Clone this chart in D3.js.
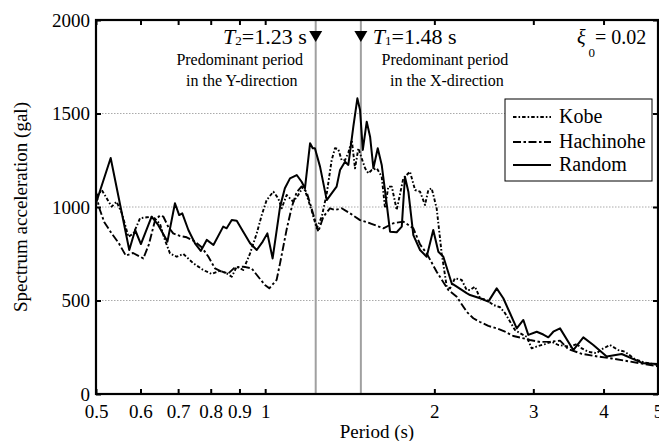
<!DOCTYPE html>
<html><head><meta charset="utf-8">
<script src="https://cdn.jsdelivr.net/npm/d3@7"></script>
<style>
body{margin:0;background:#fff;}
svg{display:block;}
svg text{font-family:"Liberation Serif","Times New Roman",serif;}
</style></head><body>
<svg id="c" width="659" height="441"></svg>
<script>
// ---- data ----
const xTickLabels = [0.5,0.6,0.7,0.8,0.9,1,2,3,4,5];
const yTickValues = [0,500,1000,1500,2000];
const gridValues = [500,1000,1500];
const seriesNames = ["Kobe","Hachinohe","Random"];
const periodT2 = 1.23, periodT1 = 1.48;

const kobe = [[0.500,1055],[0.512,1091],[0.533,1002],[0.544,1028],[0.556,966],[0.571,841],[0.583,859],[0.599,940],[0.616,945],[0.632,948],[0.650,909],[0.663,824],[0.677,752],[0.696,734],[0.715,749],[0.745,699],[0.776,663],[0.803,642],[0.831,659],[0.854,645],[0.872,627],[0.890,681],[0.914,663],[0.940,752],[0.966,859],[0.986,957],[1.006,1037],[1.034,1082],[1.055,1046],[1.070,993],[1.092,1064],[1.122,1028],[1.145,1064],[1.169,1109],[1.185,1064],[1.210,980],[1.235,886],[1.261,948],[1.287,1073],[1.313,1250],[1.331,1314],[1.349,1310],[1.368,1250],[1.387,1251],[1.406,1290],[1.426,1358],[1.445,1207],[1.465,1314],[1.485,1260],[1.506,1207],[1.526,1180],[1.548,1198],[1.580,1207],[1.612,1162],[1.634,993],[1.656,1109],[1.680,1109],[1.714,984],[1.761,1153],[1.810,1189],[1.848,1091],[1.886,1082],[1.925,1011],[1.951,1091],[1.978,1100],[2.019,993],[2.061,752],[2.104,574],[2.133,565],[2.176,619],[2.237,610],[2.283,556],[2.315,556],[2.362,574],[2.412,512],[2.478,503],[2.547,476],[2.618,464],[2.672,432],[2.727,387],[2.783,342],[2.841,325],[2.920,306],[2.980,244],[3.062,257],[3.147,267],[3.235,280],[3.323,262],[3.487,253],[3.583,267],[3.658,244],[3.758,226],[3.889,218],[3.970,239],[4.107,262],[4.250,235],[4.368,226],[4.551,186],[4.741,168],[5.000,155]];

const hachinohe = [[0.500,1080],[0.506,1000],[0.517,920],[0.533,859],[0.549,806],[0.565,740],[0.582,754],[0.607,725],[0.621,800],[0.637,930],[0.650,955],[0.659,948],[0.672,895],[0.686,859],[0.705,845],[0.725,838],[0.750,815],[0.771,785],[0.792,735],[0.814,672],[0.837,654],[0.860,645],[0.884,678],[0.914,681],[0.946,672],[0.972,627],[0.999,583],[1.017,565],[1.048,610],[1.063,700],[1.092,880],[1.115,1000],[1.138,1080],[1.161,1110],[1.185,1080],[1.210,990],[1.243,868],[1.269,948],[1.304,993],[1.331,984],[1.368,993],[1.416,966],[1.475,930],[1.537,913],[1.623,886],[1.690,913],[1.761,922],[1.835,886],[1.886,800],[1.938,752],[2.019,654],[2.118,556],[2.192,520],[2.283,440],[2.346,405],[2.412,385],[2.495,364],[2.582,351],[2.672,333],[2.764,310],[2.861,300],[2.960,289],[3.083,278],[3.212,280],[3.347,285],[3.462,240],[3.658,215],[3.915,200],[4.136,190],[4.428,175],[4.741,160],[5.000,148]];

const random = [[0.500,1020],[0.531,1262],[0.573,770],[0.587,877],[0.601,802],[0.628,948],[0.645,904],[0.670,815],[0.691,1020],[0.703,957],[0.712,966],[0.730,877],[0.750,806],[0.768,765],[0.787,824],[0.809,797],[0.842,895],[0.854,886],[0.872,930],[0.890,927],[0.914,868],[0.940,806],[0.966,770],[0.990,815],[1.009,859],[1.031,725],[1.063,1002],[1.084,1100],[1.107,1153],[1.138,1171],[1.161,1135],[1.177,1100],[1.202,1341],[1.215,1314],[1.226,1314],[1.252,1216],[1.287,1037],[1.313,1073],[1.340,1109],[1.359,1198],[1.387,1242],[1.406,1225],[1.435,1430],[1.459,1581],[1.475,1519],[1.492,1305],[1.516,1456],[1.537,1376],[1.558,1207],[1.586,1314],[1.612,1225],[1.646,1011],[1.668,868],[1.714,865],[1.750,895],[1.773,1162],[1.798,1082],[1.835,850],[1.886,770],[1.938,734],[1.991,877],[2.033,761],[2.075,734],[2.147,592],[2.192,574],[2.283,539],[2.315,529],[2.412,512],[2.495,494],[2.582,565],[2.653,512],[2.727,432],[2.803,351],[2.880,396],[2.939,316],[3.042,333],[3.125,318],[3.190,303],[3.256,333],[3.347,351],[3.534,235],[3.682,303],[3.836,262],[4.052,200],[4.309,214],[4.708,164],[5.000,160]];

// ---- layout ----
const FONT = "Liberation Serif, Times New Roman, serif";
const svg = d3.select("#c");
const L = 96, R = 658, T = 20, B = 394;
const x = d3.scaleLog().domain([0.5,5]).range([L,R]);
const y = d3.scaleLinear().domain([0,2000]).range([B,T]);
const FS = 19;

// grid
svg.append("g").selectAll("line").data(gridValues).join("line")
  .attr("x1",L).attr("x2",R).attr("y1",d=>y(d)).attr("y2",d=>y(d))
  .attr("stroke","#aaa").attr("stroke-width",1).attr("stroke-dasharray","1.5,1.5");

// vertical period lines
svg.append("g").selectAll("line").data([periodT2,periodT1]).join("line")
  .attr("x1",d=>x(d)).attr("x2",d=>x(d)).attr("y1",y(2000)).attr("y2",y(0))
  .attr("stroke","#a0a0a0").attr("stroke-width",2);

// curves
svg.append("clipPath").attr("id","clip").append("rect")
  .attr("x",L).attr("y",T).attr("width",R-L).attr("height",B-T);
const line = d3.line().x(d=>x(d[0])).y(d=>y(d[1]));
const styles = {
  Kobe:{data:kobe,dash:"3.5,2,1.6,2",w:1.9},
  Hachinohe:{data:hachinohe,dash:"8,2.5,2.5,2.5",w:1.9},
  Random:{data:random,dash:null,w:2}
};
const gCurves = svg.append("g").attr("clip-path","url(#clip)");
seriesNames.forEach(n=>{
  const s = styles[n];
  gCurves.append("path").datum(s.data).attr("d",line)
    .attr("fill","none").attr("stroke","#000").attr("stroke-width",s.w)
    .attr("stroke-linejoin","round")
    .attr("stroke-dasharray",s.dash);
});

// axes
const fmt = d=>String(d);
const gx = svg.append("g").attr("transform",`translate(0,${B})`)
  .call(d3.axisBottom(x).tickValues(xTickLabels).tickFormat(fmt).tickSizeInner(-5).tickSizeOuter(0).tickPadding(11));
const gxt = svg.append("g").attr("transform",`translate(0,${T})`)
  .call(d3.axisTop(x).tickValues(xTickLabels).tickFormat("").tickSizeInner(-5).tickSizeOuter(0));
const gy = svg.append("g").attr("transform",`translate(${L},0)`)
  .call(d3.axisLeft(y).tickValues(yTickValues).tickFormat(fmt).tickSizeInner(-5).tickSizeOuter(0).tickPadding(6));
const gyr = svg.append("g").attr("transform",`translate(${R},0)`)
  .call(d3.axisRight(y).tickValues(yTickValues).tickFormat("").tickSizeInner(-5).tickSizeOuter(0));
[gx,gxt,gy,gyr].forEach(g=>{
  g.attr("font-family",FONT);
  g.select(".domain").remove();
  g.selectAll(".tick line").attr("stroke","#000").attr("stroke-width",2);
  g.selectAll(".tick text").attr("font-size",FS).attr("font-family",FONT).attr("fill","#000");
});
// frame
svg.append("rect").attr("x",L).attr("y",T).attr("width",R-L).attr("height",B-T)
  .attr("fill","none").attr("stroke","#000").attr("stroke-width",2.2);

// axis titles
svg.append("text").attr("x",377).attr("y",438).attr("text-anchor","middle")
  .attr("font-family",FONT).attr("font-size",FS).text("Period (s)");
svg.append("text").attr("transform","translate(27,207) rotate(-90)").attr("text-anchor","middle")
  .attr("font-family",FONT).attr("font-size",FS).text("Spectrum acceleration (gal)");

// annotations: triangles
svg.append("g").selectAll("path").data([periodT2,periodT1]).join("path")
  .attr("d",d=>`M${x(d)-6.5},31 L${x(d)+6.5},31 L${x(d)},42 Z`).attr("fill","#000");

const t2 = svg.append("text").attr("x",x(periodT2)-9).attr("y",44).attr("text-anchor","end")
  .attr("font-family",FONT).attr("font-size",22);
t2.append("tspan").attr("font-style","italic").text("T");
t2.append("tspan").attr("font-size",13).attr("dy",1).text("2");
t2.append("tspan").attr("dy",-1).text("=1.23 s");
const t1 = svg.append("text").attr("x",x(periodT1)+12).attr("y",44)
  .attr("font-family",FONT).attr("font-size",22);
t1.append("tspan").attr("font-style","italic").text("T");
t1.append("tspan").attr("font-size",13).attr("dy",1).text("1");
t1.append("tspan").attr("dy",-1).text("=1.48 s");

const pd = [[x(periodT2)-76,"Predominant period","in the Y-direction"],[x(periodT1)+84,"Predominant period","in the X-direction"]];
pd.forEach(p=>{
  svg.append("text").attr("x",p[0]).attr("y",65).attr("text-anchor","middle")
    .attr("font-family",FONT).attr("font-size",16).text(p[1]);
  svg.append("text").attr("x",p[0]+2).attr("y",86).attr("text-anchor","middle")
    .attr("font-family",FONT).attr("font-size",16).text(p[2]);
});

const xi = svg.append("text").attr("x",577).attr("y",44).attr("font-family",FONT).attr("font-size",20);
xi.append("tspan").attr("font-style","italic").text("ξ");
xi.append("tspan").attr("font-size",13).attr("dx",3).attr("dy",13).text("0");
xi.append("tspan").attr("dy",-13).text("= 0.02");

// legend
const lg = svg.append("g");
lg.append("rect").attr("x",505).attr("y",99).attr("width",147).attr("height",82)
  .attr("fill","#fff").attr("stroke","#000").attr("stroke-width",1);
const ly = [117,142,165];
seriesNames.forEach((n,i)=>{
  const s = styles[n];
  lg.append("line").attr("x1",513).attr("x2",551).attr("y1",ly[i]).attr("y2",ly[i])
    .attr("stroke","#000").attr("stroke-width",s.w).attr("stroke-dasharray",s.dash);
  lg.append("text").attr("x",559).attr("y",ly[i]+6).attr("font-family",FONT).attr("font-size",20).text(n);
});
</script>
</body></html>
